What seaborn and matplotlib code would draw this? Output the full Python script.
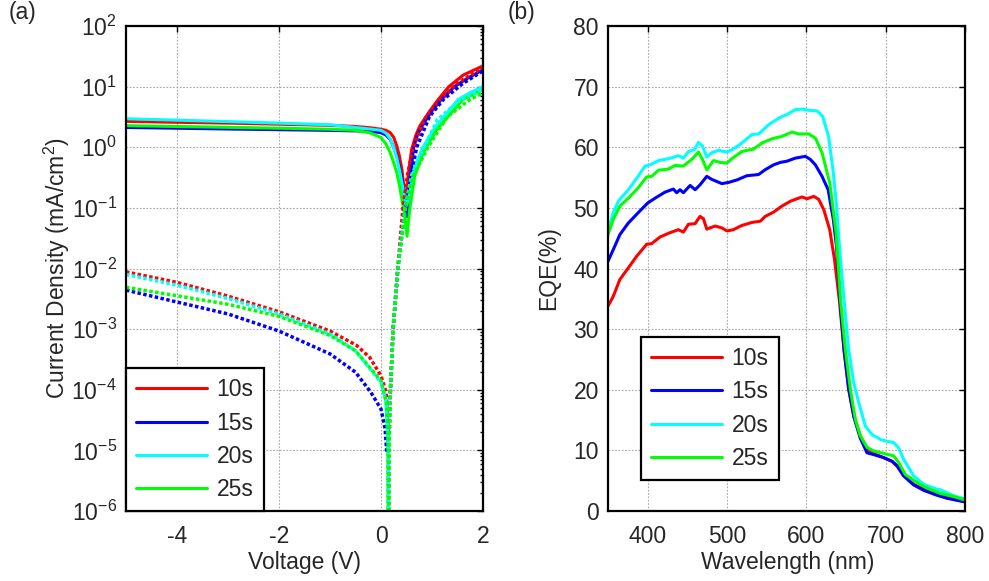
import numpy as np
import pandas as pd
import matplotlib
matplotlib.use("Agg")
import matplotlib.pyplot as plt
import seaborn as sns
from matplotlib.ticker import LogLocator, FixedLocator, NullFormatter

# ---------------- data: J-V (panel a) ----------------
samples = ["10s", "15s", "20s", "25s"]
colors = ["#ff0000", "#0000ff", "#00ffff", "#00ff00"]

# light (solid) curves, |J| in mA/cm^2
V_light_10 = [-5, -4, -3, -2, -1, -0.5, -0.22, 0, 0.1, 0.18, 0.25, 0.31, 0.36, 0.41, 0.47, 0.49, 0.53, 0.60, 0.68, 0.76, 0.95, 1.12, 1.33, 1.61, 2.0]
J_light_10 = [2.67, 2.58, 2.5, 2.4, 2.3, 2.2, 2.1, 1.98, 1.9, 1.74, 1.45, 1.05, 0.72, 0.43, 0.155, 0.095, 0.33, 0.91, 1.55, 2.24, 3.9, 6.1, 10.0, 15.5, 22.0]
V_light_15 = [-5, -4, -3, -2, -1, -0.22, 0, 0.1, 0.18, 0.25, 0.31, 0.36, 0.41, 0.47, 0.51, 0.56, 0.64, 0.72, 0.82, 1.0, 1.18, 1.44, 1.7, 2.0]
J_light_15 = [2.12, 2.06, 2.0, 1.95, 1.9, 1.84, 1.74, 1.58, 1.35, 1.0, 0.72, 0.48, 0.30, 0.137, 0.072, 0.25, 1.0, 1.65, 2.35, 4.0, 6.1, 10.0, 13.8, 19.0]
V_light_20 = [-5, -4, -3, -2, -1, -0.22, 0, 0.1, 0.18, 0.25, 0.31, 0.36, 0.41, 0.47, 0.50, 0.56, 0.66, 0.82, 1.08, 1.51, 1.75, 2.0]
J_light_20 = [2.95, 2.8, 2.65, 2.5, 2.35, 2.0, 1.9, 1.7, 1.38, 0.98, 0.67, 0.43, 0.26, 0.14, 0.11, 0.166, 0.47, 1.0, 2.24, 6.1, 8.0, 10.0]
V_light_25 = [-5, -4, -3, -2, -1, -0.5, -0.22, 0, 0.1, 0.18, 0.25, 0.31, 0.36, 0.41, 0.47, 0.51, 0.56, 0.66, 0.82, 1.08, 1.6, 2.0]
J_light_25 = [2.27, 2.2, 2.13, 2.06, 1.98, 1.9, 1.73, 1.45, 1.12, 0.81, 0.55, 0.38, 0.24, 0.138, 0.07, 0.034, 0.091, 0.33, 0.79, 1.9, 6.1, 9.0]

# dark (dotted) curves
V_dark_10 = [-5, -4, -3, -2, -1, -0.48, -0.22, 0, 0.1, 0.14, 0.15, 0.155, 0.185, 0.237, 0.33, 0.43, 0.52, 0.63, 0.85, 1.15, 1.5, 2.0]
J_dark_10 = [8.8e-3, 5.9e-3, 3.5e-3, 1.93e-3, 9.3e-4, 5.4e-4, 3.4e-4, 1.7e-4, 9.1e-5, 2.3e-5, 1e-8, 1e-5, 1e-4, 1e-3, 1e-2, 0.1, 0.35, 1.0, 2.8, 6.0, 11.5, 20.5]
V_dark_15 = [-5, -4, -3, -2, -1, -0.5, -0.2, 0, 0.08, 0.11, 0.14, 0.185, 0.237, 0.33, 0.47, 0.58, 0.70, 0.95, 1.22, 1.6, 2.0]
J_dark_15 = [4.4e-3, 2.8e-3, 1.78e-3, 9.3e-4, 3.9e-4, 1.95e-4, 9.1e-5, 4.8e-5, 2.3e-5, 1.0e-5, 1.6e-5, 1e-4, 1e-3, 1e-2, 0.1, 0.32, 1.0, 3.2, 6.1, 11.2, 18.2]
V_dark_20 = [-5, -4, -3, -2, -1, -0.5, 0, 0.1, 0.14, 0.15, 0.155, 0.185, 0.237, 0.33, 0.47, 0.6, 0.85, 1.1, 1.55, 2.0]
J_dark_20 = [8.0e-3, 5.3e-3, 3.2e-3, 1.78e-3, 8.3e-4, 4.4e-4, 1.32e-4, 6.3e-5, 1.6e-5, 1e-8, 1e-5, 1e-4, 1e-3, 1e-2, 0.1, 0.35, 1.0, 2.8, 6.1, 9.1]
V_dark_25 = [-5, -4, -3, -2, -1, -0.5, 0, 0.1, 0.14, 0.15, 0.155, 0.185, 0.237, 0.33, 0.48, 0.62, 0.92, 1.3, 1.74, 2.0]
J_dark_25 = [4.9e-3, 3.55e-3, 2.57e-3, 1.62e-3, 7.9e-4, 4.4e-4, 1.41e-4, 6.3e-5, 1.26e-5, 1e-8, 1e-5, 1e-4, 1e-3, 1e-2, 0.1, 0.32, 1.0, 3.2, 6.1, 7.9]

# ---------------- data: EQE (panel b) ----------------
wl_10 = [350, 356.6, 365, 375.6, 386, 398.7, 405, 415.6, 428, 438.7, 445, 451.4, 459.8, 466, 470.3, 474.5, 485, 493.5, 500, 508, 518.7, 531.4, 542, 548.2, 558.7, 569.3, 580, 588.2, 594.5, 600.8, 609.3, 615.6, 622, 629.5, 635.5, 641.5, 647.5, 653.4, 659.7, 668, 676.5, 684.9, 697.5, 708, 714.3, 722.7, 735.3, 748, 764.7, 777.3, 800]
eqe_10 = [33.8, 35.4, 38.2, 40.1, 42.0, 44.0, 44.1, 45.2, 45.9, 46.4, 46.0, 47.3, 47.4, 48.6, 48.2, 46.5, 47.0, 46.7, 46.2, 46.4, 47.1, 47.6, 47.8, 48.6, 49.3, 50.3, 51.1, 51.5, 51.8, 51.5, 51.9, 51.4, 49.7, 46.4, 41.5, 34.9, 26.6, 20.1, 15.7, 12.4, 10.2, 9.5, 8.8, 8.2, 7.4, 5.8, 4.4, 3.6, 2.7, 2.2, 1.5]
wl_15 = [350, 356.6, 365, 375.6, 388, 400, 409.3, 421.9, 432.4, 436.6, 440.8, 445, 453.5, 459.8, 466, 474.5, 480.8, 493.5, 502, 512.4, 525, 539.8, 548.2, 558.7, 567.2, 575.6, 586, 598.7, 605, 611.4, 619.8, 627.5, 634, 638, 642, 647.5, 653.4, 660, 668, 676.5, 685, 697.5, 708, 714.3, 722.7, 735.3, 748, 764.7, 777.3, 800]
eqe_15 = [41.2, 43.1, 45.6, 47.5, 49.2, 50.8, 51.6, 52.6, 53.1, 52.5, 53.0, 52.5, 53.7, 53.0, 53.8, 55.2, 54.7, 54.0, 54.2, 54.6, 55.3, 55.5, 56.3, 57.1, 57.5, 57.7, 58.2, 58.5, 58.0, 57.1, 55.2, 53.0, 48.1, 43.7, 35.5, 26.6, 20.1, 15.5, 12.0, 9.6, 9.3, 8.8, 8.2, 7.5, 5.8, 4.3, 3.4, 2.6, 2.1, 1.5]
wl_20 = [350, 356.6, 363, 375.6, 388, 396.6, 403, 413.5, 426, 438.7, 445, 451.4, 459, 464, 469, 474.5, 480.8, 489.3, 500, 508, 518.7, 531.4, 540, 552.4, 565, 575.6, 586, 594.5, 603, 613.5, 620.5, 628, 634, 638.5, 642, 647.5, 653.4, 659.7, 666, 674.4, 682.8, 693.3, 701.7, 710, 716.4, 722.7, 735.3, 748, 764.7, 769, 785.7, 800]
eqe_20 = [46.2, 49.2, 51.1, 53.0, 55.2, 56.9, 57.1, 57.8, 58.1, 58.6, 58.2, 59.3, 59.6, 60.8, 60.2, 58.4, 59.1, 59.5, 59.2, 59.7, 60.7, 62.1, 62.2, 63.7, 64.8, 65.4, 66.2, 66.3, 66.1, 66.0, 65.1, 61.8, 55.8, 49.7, 43.1, 34.9, 26.6, 21.2, 17.9, 14.0, 12.6, 11.8, 11.5, 11.3, 10.4, 8.5, 5.8, 4.4, 3.6, 3.5, 2.5, 2.0]
wl_25 = [350, 356.6, 365, 375.6, 388, 398.7, 405, 413.5, 426, 434.5, 445, 455.6, 464, 469, 474.5, 483, 491.4, 500, 506, 518.7, 533.5, 544, 556.6, 569.3, 582, 590.3, 603, 611.4, 619.8, 629.5, 637.5, 643, 649.2, 655.5, 661.8, 668, 676.5, 684.9, 697.5, 710, 716.4, 724.8, 739.5, 752, 768.9, 785.7, 800]
eqe_25 = [45.6, 48.1, 50.3, 51.6, 53.3, 55.1, 55.2, 56.2, 56.4, 57.0, 56.9, 58.0, 59.2, 58.0, 56.3, 57.8, 57.5, 57.4, 58.1, 59.3, 59.7, 60.7, 61.4, 61.8, 62.5, 62.2, 62.2, 61.5, 59.1, 54.1, 45.9, 34.9, 26.6, 20.1, 15.1, 12.4, 10.5, 9.9, 9.5, 9.1, 8.0, 6.0, 4.7, 3.8, 2.9, 2.4, 1.8]

x_ticks_a = [-4, -2, 0, 2]
x_ticks_b = [400, 500, 600, 700, 800]
y_ticks_b = [0, 10, 20, 30, 40, 50, 60, 70, 80]

# ---------------- build tables ----------------
def table(xs, ys, xname, yname):
    return pd.concat([pd.DataFrame({xname: x, yname: y, "sample": s})
                      for x, y, s in zip(xs, ys, samples)], ignore_index=True)

light = table([V_light_10, V_light_15, V_light_20, V_light_25],
              [J_light_10, J_light_15, J_light_20, J_light_25], "V", "J")
dark = table([V_dark_10, V_dark_15, V_dark_20, V_dark_25],
             [J_dark_10, J_dark_15, J_dark_20, J_dark_25], "V", "J")
eqe = table([wl_10, wl_15, wl_20, wl_25], [eqe_10, eqe_15, eqe_20, eqe_25], "wl", "EQE")

# ---------------- style ----------------
sns.set_theme(style="white")
FS = 16.5
plt.rcParams.update({
    "font.family": ["Liberation Sans", "DejaVu Sans"],
    "mathtext.fontset": "custom",
    "mathtext.rm": "Liberation Sans",
    "mathtext.it": "Liberation Sans:italic",
    "mathtext.bf": "Liberation Sans:bold",
    "mathtext.default": "regular",
    "axes.unicode_minus": False,
    "font.size": FS,
})

palette = dict(zip(samples, colors))
fig = plt.figure(figsize=(9.89, 5.81), dpi=100)
W, H = 989, 581
ax1 = fig.add_axes([126 / W, 1 - 511 / H, 357 / W, 485 / H])
ax2 = fig.add_axes([608 / W, 1 - 511 / H, 357 / W, 485 / H])

LW = 2.2
sns.lineplot(data=light, x="V", y="J", hue="sample", palette=palette, estimator=None,
             sort=False, lw=LW, ax=ax1, legend=False)
sns.lineplot(data=dark, x="V", y="J", hue="sample", palette=palette, estimator=None,
             sort=False, lw=LW + 0.3, linestyle=(0, (1.0, 0.7)), ax=ax1, legend=False)
sns.lineplot(data=eqe, x="wl", y="EQE", hue="sample", palette=palette, estimator=None,
             sort=False, lw=LW, ax=ax2, legend=False)

ax1.set_yscale("log")
ax1.set_xlim(-5, 2)
ax1.set_ylim(1e-6, 1e2)
ax1.xaxis.set_major_locator(FixedLocator(x_ticks_a))
ax1.yaxis.set_major_locator(LogLocator(base=10, numticks=20))
ax1.yaxis.set_minor_locator(LogLocator(base=10, subs=np.arange(2, 10), numticks=100))
ax1.yaxis.set_minor_formatter(NullFormatter())

ax2.set_xlim(350, 800)
ax2.set_ylim(0, 80)
ax2.xaxis.set_major_locator(FixedLocator(x_ticks_b))
ax2.yaxis.set_major_locator(FixedLocator(y_ticks_b))

for ax in (ax1, ax2):
    ax.grid(True, which="major", linestyle=(0, (1.5, 1.5)), color="#a8a8a8", lw=0.8)
    ax.tick_params(which="both", direction="in", top=True, right=True,
                   labelsize=FS, color="black", width=1.0)
    ax.tick_params(which="major", length=4.5)
    ax.tick_params(which="minor", length=2.5)
    ax.tick_params(axis="y", pad=6.5)
    ax.tick_params(axis="x", pad=10)
    for sp in ax.spines.values():
        sp.set_color("black")
        sp.set_linewidth(1.6)
    ax.set_axisbelow(True)
    ax.xaxis.get_offset_text().set_visible(False)
    ax.yaxis.get_offset_text().set_visible(False)

ax1.set_xlabel("Voltage (V)", fontsize=FS)
ax1.set_ylabel("Current Density (mA/cm$^2$)", fontsize=FS)
ax2.set_xlabel("Wavelength (nm)", fontsize=FS)
ax2.set_ylabel("EQE(%)", fontsize=FS)
ax1.xaxis.set_label_coords(0.5, -0.082)
ax2.xaxis.set_label_coords(0.504, -0.082)
ax1.yaxis.set_label_coords(-0.152, 0.5)
ax2.yaxis.set_label_coords(-0.135, 0.5)

leg_kw = dict(frameon=True, fancybox=False, edgecolor="black", framealpha=1,
              fontsize=FS, handlelength=3.1, handletextpad=0.4, labelspacing=0.44,
              borderpad=0.45, borderaxespad=0)
lg1 = ax1.legend(ax1.lines[:4], samples, loc="lower left", **leg_kw)
lg2 = ax2.legend(ax2.lines[:4], samples, loc="lower left",
                 bbox_to_anchor=(0.0924, 0.064), **leg_kw)
for lg in (lg1, lg2):
    lg.get_frame().set_linewidth(1.6)

fig.text(9 / W, 1 - 1 / H, "(a)", fontsize=FS, va="top", ha="left")
fig.text(508 / W, 1 - 1 / H, "(b)", fontsize=FS, va="top", ha="left")

fig.savefig("out.png", dpi=100)
